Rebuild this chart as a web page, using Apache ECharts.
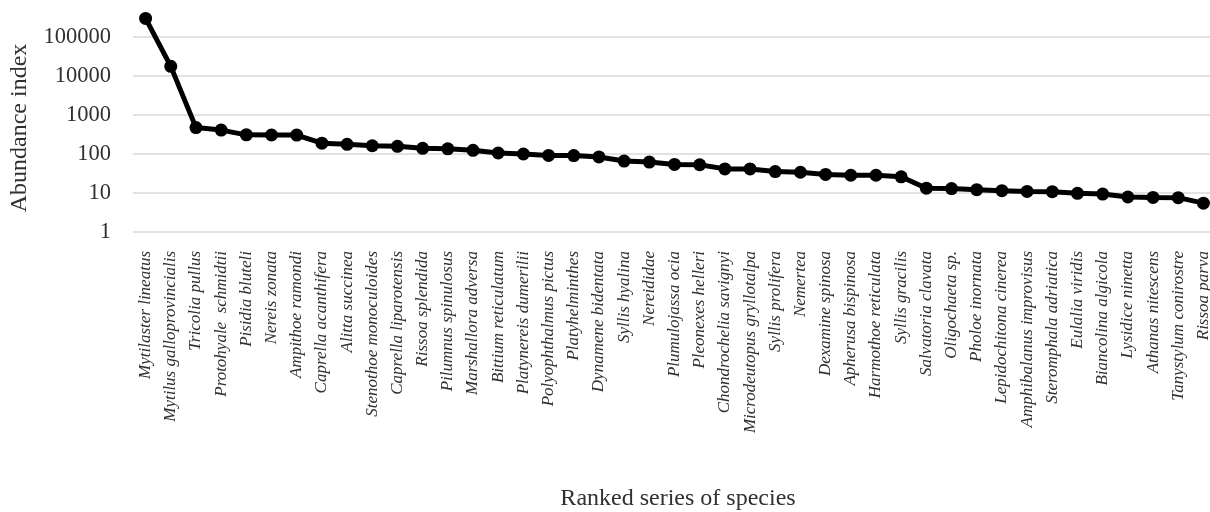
<!DOCTYPE html>
<html>
<head>
<meta charset="utf-8">
<style>
  html, body { margin: 0; padding: 0; background: #ffffff; }
  #chart { width: 1210px; height: 512px; }
</style>
<script src="https://cdn.jsdelivr.net/npm/echarts@6/dist/echarts.min.js"></script>
</head>
<body>
<div id="chart"></div>
<script>
// Species, ranked by abundance
const species = [
  'Mytilaster lineatus', 'Mytilus galloprovincialis', 'Tricolia pullus', 'Protohyale  schmidtii',
  'Pisidia bluteli', 'Nereis zonata', 'Ampithoe ramondi', 'Caprella acanthifera', 'Alitta succinea',
  'Stenothoe monoculoides', 'Caprella liparotensis', 'Rissoa splendida', 'Pilumnus spinulosus',
  'Marshallora adversa', 'Bittium reticulatum', 'Platynereis dumerilii', 'Polyophthalmus pictus',
  'Platyhelminthes', 'Dynamene bidentata', 'Syllis hyalina', 'Nereididae', 'Plumulojassa ocia',
  'Pleonexes helleri', 'Chondrochelia savignyi', 'Microdeutopus gryllotalpa', 'Syllis prolifera',
  'Nemertea', 'Dexamine spinosa', 'Apherusa bispinosa', 'Harmothoe reticulata', 'Syllis gracilis',
  'Salvatoria clavata', 'Oligochaeta sp.', 'Pholoe inornata', 'Lepidochitona cinerea',
  'Amphibalanus improvisus', 'Steromphala adriatica', 'Eulalia viridis', 'Biancolina algicola',
  'Lysidice ninetta', 'Athanas nitescens', 'Tanystylum conirostre', 'Rissoa parva'
];

// Abundance index for each species
const abundance = [
  300000, 17700, 475, 410, 310, 307, 305, 190, 177, 163, 157, 140, 136,
  124, 106, 100, 92, 91, 84, 66, 62, 54, 53, 41.5, 41.5, 35.5, 34,
  30, 28.5, 28.5, 26, 13.3, 13, 12.2, 11.5, 11, 10.8, 9.8, 9.4, 7.9, 7.7, 7.6, 5.5
];

// Log axis range
const yMin = 1;
const yMax = 1000000;

const yTitle = 'Abundance index';
const xTitle = 'Ranked series of species';

const serif = "'Liberation Serif', 'Times New Roman', serif";
const textColor = '#303030';

const chart = echarts.init(document.getElementById('chart'), null, { renderer: 'canvas' });

chart.setOption({
  animation: false,
  backgroundColor: '#ffffff',
  // plot area runs slightly past the right edge of the canvas
  grid: {
    left: 133, width: 1083, top: -2, height: 234,
    containLabel: false,
    outerBoundsMode: 'none'
  },
  xAxis: {
    type: 'category',
    data: species,
    boundaryGap: true,
    axisLine: { show: false },
    axisTick: { show: false },
    axisLabel: {
      interval: 0,
      rotate: 90,
      margin: 19,
      fontFamily: serif,
      fontStyle: 'italic',
      fontSize: 17,
      color: textColor
    }
  },
  yAxis: {
    type: 'log',
    logBase: 10,
    min: yMin,
    max: yMax,
    axisLine: { show: false },
    axisTick: { show: false },
    splitLine: { show: true, showMaxLine: false, lineStyle: { color: '#d9d9d9', width: 1.5 } },
    axisLabel: {
      margin: 22,
      fontFamily: serif,
      fontSize: 22.5,
      color: textColor,
      formatter: function (v) { return v >= yMax ? '' : String(Math.round(v)); }
    }
  },
  graphic: [
    {
      type: 'text',
      x: 20, y: 128,
      rotation: Math.PI / 2,
      style: {
        text: yTitle,
        fontFamily: serif,
        fontSize: 24,
        fill: textColor,
        textAlign: 'center',
        textVerticalAlign: 'middle'
      }
    },
    {
      type: 'text',
      x: 678, y: 499,
      style: {
        text: xTitle,
        fontFamily: serif,
        fontSize: 24,
        fill: textColor,
        textAlign: 'center',
        textVerticalAlign: 'middle'
      }
    }
  ],
  series: [{
    type: 'line',
    data: abundance,
    symbol: 'circle',
    symbolSize: 13,
    showAllSymbol: true,
    lineStyle: { color: '#000000', width: 5 },
    itemStyle: { color: '#000000' }
  }]
});
</script>
</body>
</html>
